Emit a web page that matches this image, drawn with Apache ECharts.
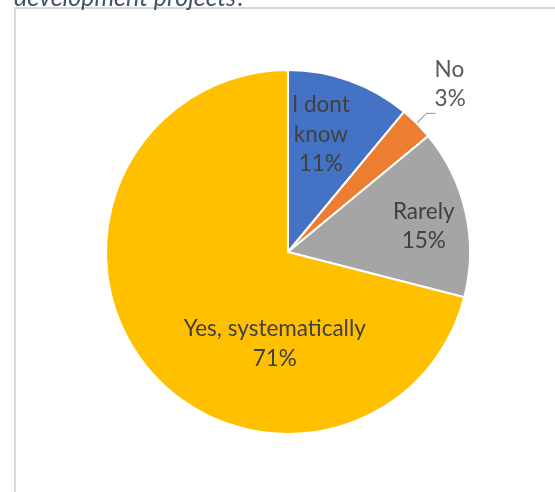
<!DOCTYPE html>
<html>
<head>
<meta charset="utf-8">
<script src="https://cdn.jsdelivr.net/npm/echarts@6/dist/echarts.min.js"></script>
<style>
html,body{margin:0;padding:0;background:#fff;}
#chart{width:555px;height:492px;}
</style>
</head>
<body>
<div id="chart"></div>
<script>
var titleText = 'development projects?';
var categories = ['I dont\nknow', 'No', 'Rarely', 'Yes, systematically'];
var values = [11, 3, 15, 71];
var colors = ['#4472C4', '#ED7D31', '#A5A5A5', '#FFC000'];
var labelOffsets = [[1, -29], [-6, -29], [44, -5], [61, 34]];

var chart = echarts.init(document.getElementById('chart'), null, {renderer: 'canvas'});
var data = categories.map(function (c, i) {
  var item = {name: c, value: values[i], itemStyle: {color: colors[i]}};
  if (i === 1) {
    item.label = {position: 'outside', color: '#595959', align: 'center'};
    item.labelLine = {show: true, length: 14, length2: 9, lineStyle: {color: '#A6A6A6', width: 1.3}};
  }
  return item;
});
chart.setOption({
  animation: false,
  title: {
    text: titleText, left: 9, top: -19,
    textStyle: {fontFamily: 'Lato', fontStyle: 'italic', fontWeight: 'normal', fontSize: 25, color: '#44546A', lineHeight: 24}
  },
  graphic: [{
    type: 'rect', silent: true, z: -1,
    shape: {x: 15, y: 8, width: 700, height: 700},
    style: {fill: 'none', stroke: '#D9D9D9', lineWidth: 2}
  }],
  series: [{
    type: 'pie',
    center: [288, 252],
    radius: [0, 182],
    startAngle: 90,
    clockwise: true,
    avoidLabelOverlap: false,
    itemStyle: {borderColor: '#fff', borderWidth: 2},
    label: {
      show: true, position: 'inside', fontFamily: 'Lato', fontSize: 22.5, lineHeight: 29.5,
      color: '#404040', formatter: function (p) { return p.name + '\n' + p.value + '%'; }
    },
    labelLine: {show: false},
    labelLayout: function (p) {
      var o = labelOffsets[p.dataIndex];
      return {dx: o[0], dy: o[1]};
    },
    data: data
  }]
});
</script>
</body>
</html>
